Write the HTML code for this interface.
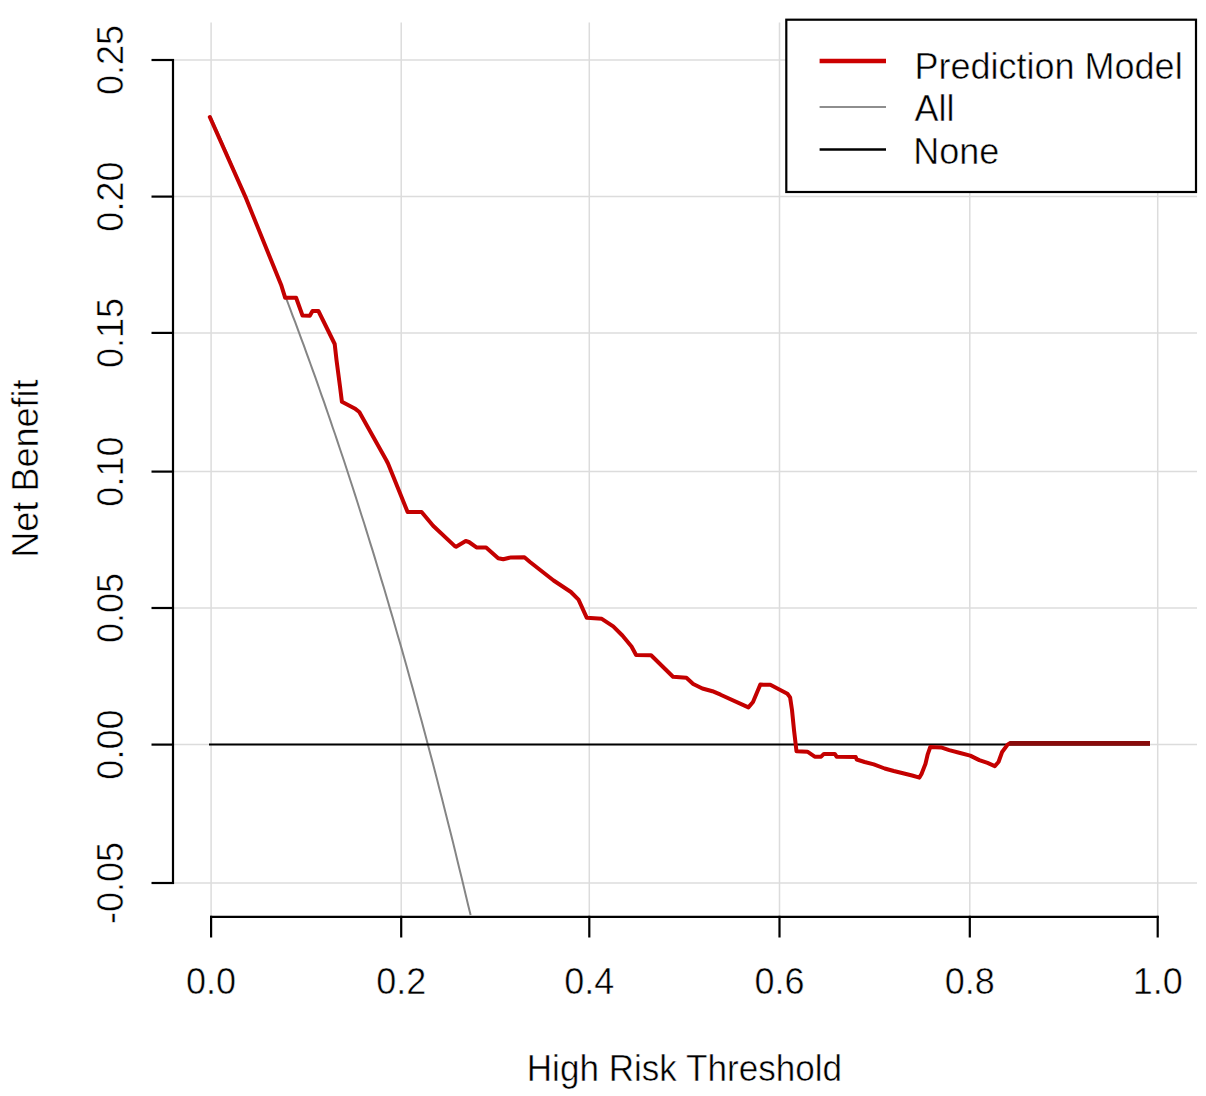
<!DOCTYPE html>
<html><head><meta charset="utf-8"><title>Decision curve</title>
<style>html,body{margin:0;padding:0;background:#fff;width:1206px;height:1096px;overflow:hidden}svg{display:block}text{font-family:"Liberation Sans",sans-serif}</style>
</head><body>
<svg width="1206" height="1096" viewBox="0 0 1206 1096"><rect width="1206" height="1096" fill="#fff"/><defs><clipPath id="pc"><rect x="173" y="22.6" width="1024" height="894.2"/></clipPath></defs><g stroke="#dcdcdc" stroke-width="1.5"><line x1="211.1" y1="22.6" x2="211.1" y2="916.8"/><line x1="401.2" y1="22.6" x2="401.2" y2="916.8"/><line x1="589.3" y1="22.6" x2="589.3" y2="916.8"/><line x1="779.5" y1="22.6" x2="779.5" y2="916.8"/><line x1="969.8" y1="22.6" x2="969.8" y2="916.8"/><line x1="1157.7" y1="22.6" x2="1157.7" y2="916.8"/><line x1="173.0" y1="60.0" x2="1197.0" y2="60.0"/><line x1="173.0" y1="196.6" x2="1197.0" y2="196.6"/><line x1="173.0" y1="332.9" x2="1197.0" y2="332.9"/><line x1="173.0" y1="471.6" x2="1197.0" y2="471.6"/><line x1="173.0" y1="608.0" x2="1197.0" y2="608.0"/><line x1="173.0" y1="744.6" x2="1197.0" y2="744.6"/><line x1="173.0" y1="883.0" x2="1197.0" y2="883.0"/></g><g clip-path="url(#pc)" fill="none"><polyline points="210.5,116.2 212.7,121.1 214.9,126.1 217.2,131.1 219.4,136.1 221.6,141.2 223.8,146.3 226.1,151.3 228.3,156.5 230.5,161.6 232.7,166.8 234.9,171.9 237.2,177.1 239.4,182.4 241.6,187.6 243.8,192.9 246.1,198.2 248.3,203.5 250.5,208.9 252.7,214.3 255.0,219.7 257.2,225.1 259.4,230.5 261.6,236.0 263.8,241.5 266.1,247.1 268.3,252.6 270.5,258.2 272.7,263.9 275.0,269.5 277.2,275.2 279.4,280.9 281.6,286.6 283.8,292.4 286.1,298.2 288.3,304.0 290.5,309.9 292.7,315.8 295.0,321.7 297.2,327.6 299.4,333.6 301.6,339.6 303.9,345.7 306.1,351.8 308.3,357.9 310.5,364.0 312.7,370.2 315.0,376.4 317.2,382.7 319.4,389.0 321.6,395.3 323.9,401.7 326.1,408.1 328.3,414.5 330.5,420.9 332.7,427.5 335.0,434.0 337.2,440.6 339.4,447.2 341.6,453.8 343.9,460.5 346.1,467.3 348.3,474.0 350.5,480.8 352.8,487.7 355.0,494.6 357.2,501.5 359.4,508.5 361.6,515.5 363.9,522.5 366.1,529.6 368.3,536.7 370.5,543.9 372.8,551.1 375.0,558.4 377.2,565.7 379.4,573.0 381.6,580.4 383.9,587.8 386.1,595.3 388.3,602.8 390.5,610.4 392.8,618.0 395.0,625.7 397.2,633.4 399.4,641.1 401.7,648.9 403.9,656.8 406.1,664.6 408.3,672.6 410.5,680.6 412.8,688.6 415.0,696.7 417.2,704.8 419.4,713.0 421.7,721.2 423.9,729.5 426.1,737.8 428.3,746.2 430.5,754.6 432.8,763.0 435.0,771.6 437.2,780.1 439.4,788.8 441.7,797.5 443.9,806.2 446.1,815.0 448.3,823.8 450.6,832.7 452.8,841.6 455.0,850.6 457.2,859.7 459.4,868.8 461.7,877.9 463.9,887.2 466.1,896.4 468.3,905.8 470.6,915.1" stroke="#858585" stroke-width="2"/><line x1="209" y1="744.4" x2="1150" y2="744.4" stroke="#000" stroke-width="2"/><polyline points="209.8,117.0 245.3,196.6 281.4,285.6 285.2,297.8 296.1,297.8 302.5,315.5 309.8,315.8 312.5,311.0 318.4,311.0 327.8,330.0 334.7,344.0 336.5,360.0 340.0,386.5 341.9,401.7 354.7,408.4 359.3,412.0 386.2,460.0 388.0,463.5 407.6,512.0 421.6,512.0 433.1,525.7 454.8,546.1 456.1,546.7 465.7,541.0 468.9,542.0 476.5,547.4 486.1,547.6 498.2,558.2 503.3,559.3 511.0,557.4 524.4,557.3 530.0,562.0 553.6,580.5 570.9,592.0 578.5,599.7 586.8,617.8 601.8,618.8 613.2,626.4 622.4,635.5 631.5,646.5 636.1,655.0 651.1,655.3 673.0,676.8 686.4,677.8 693.2,684.0 702.4,688.5 712.4,691.2 720.6,694.7 748.4,707.4 753.0,702.0 757.6,691.0 760.3,684.6 770.3,684.8 787.4,693.7 790.1,697.4 792.0,710.0 794.0,730.0 796.5,751.2 807.4,751.7 814.7,756.7 821.1,756.7 823.9,753.9 834.8,753.9 836.6,756.7 855.8,757.1 856.7,759.5 864.6,762.0 873.8,764.4 884.7,768.5 893.8,771.0 903.0,773.3 912.1,775.5 919.4,777.6 921.5,774.0 925.5,763.8 927.6,754.7 930.3,747.0 941.0,747.4 949.2,750.1 959.2,752.8 970.2,755.6 979.3,760.1 987.5,762.9 994.8,766.1 998.5,762.0 1002.1,752.0 1007.6,744.6 1009.5,743.4" stroke="#c40000" stroke-width="4" stroke-linejoin="round" stroke-linecap="round"/><polyline points="1009.5,743.4 1150.0,743.4" stroke="#880a0a" stroke-width="4.6"/></g><g stroke="#000" stroke-width="2.2"><line x1="173.0" y1="59.0" x2="173.0" y2="884.0"/><line x1="151.5" y1="60.0" x2="174.0" y2="60.0"/><line x1="151.5" y1="196.6" x2="174.0" y2="196.6"/><line x1="151.5" y1="332.9" x2="174.0" y2="332.9"/><line x1="151.5" y1="471.6" x2="174.0" y2="471.6"/><line x1="151.5" y1="608.0" x2="174.0" y2="608.0"/><line x1="151.5" y1="744.6" x2="174.0" y2="744.6"/><line x1="151.5" y1="883.0" x2="174.0" y2="883.0"/><line x1="210.1" y1="916.8" x2="1158.7" y2="916.8"/><line x1="211.1" y1="915.8" x2="211.1" y2="937.5"/><line x1="401.2" y1="915.8" x2="401.2" y2="937.5"/><line x1="589.3" y1="915.8" x2="589.3" y2="937.5"/><line x1="779.5" y1="915.8" x2="779.5" y2="937.5"/><line x1="969.8" y1="915.8" x2="969.8" y2="937.5"/><line x1="1157.7" y1="915.8" x2="1157.7" y2="937.5"/></g><g font-family="Liberation Sans, sans-serif" font-size="36" fill="#000" stroke="#fff" stroke-width="0.5"><text x="211.1" y="993.8" text-anchor="middle">0.0</text><text x="401.2" y="993.8" text-anchor="middle">0.2</text><text x="589.3" y="993.8" text-anchor="middle">0.4</text><text x="779.5" y="993.8" text-anchor="middle">0.6</text><text x="969.8" y="993.8" text-anchor="middle">0.8</text><text x="1157.7" y="993.8" text-anchor="middle">1.0</text><text transform="translate(122.8,60.0) rotate(-90)" text-anchor="middle">0.25</text><text transform="translate(122.8,196.6) rotate(-90)" text-anchor="middle">0.20</text><text transform="translate(122.8,332.9) rotate(-90)" text-anchor="middle">0.15</text><text transform="translate(122.8,471.6) rotate(-90)" text-anchor="middle">0.10</text><text transform="translate(122.8,608.0) rotate(-90)" text-anchor="middle">0.05</text><text transform="translate(122.8,744.6) rotate(-90)" text-anchor="middle">0.00</text><text transform="translate(122.8,883.0) rotate(-90)" text-anchor="middle">-0.05</text><text x="684.4" y="1080.7" text-anchor="middle" textLength="315.3" lengthAdjust="spacingAndGlyphs">High Risk Threshold</text><text transform="translate(38.3,468.6) rotate(-90)" text-anchor="middle">Net Benefit</text></g><rect x="786.3" y="19.7" width="409.7" height="172.3" fill="#fff" stroke="#000" stroke-width="2.2"/><line x1="819.6" y1="61" x2="886" y2="61" stroke="#cc0000" stroke-width="4.4"/><line x1="819.6" y1="107" x2="886" y2="107" stroke="#8e8e8e" stroke-width="2.2"/><line x1="819.6" y1="149.4" x2="886" y2="149.4" stroke="#000" stroke-width="2.5"/><g font-family="Liberation Sans, sans-serif" font-size="36" fill="#000" stroke="#fff" stroke-width="0.5"><text x="914.5" y="78.5">Prediction Model</text><text x="914.5" y="121">All</text><text x="913.2" y="163.6">None</text></g></svg>
</body></html>
